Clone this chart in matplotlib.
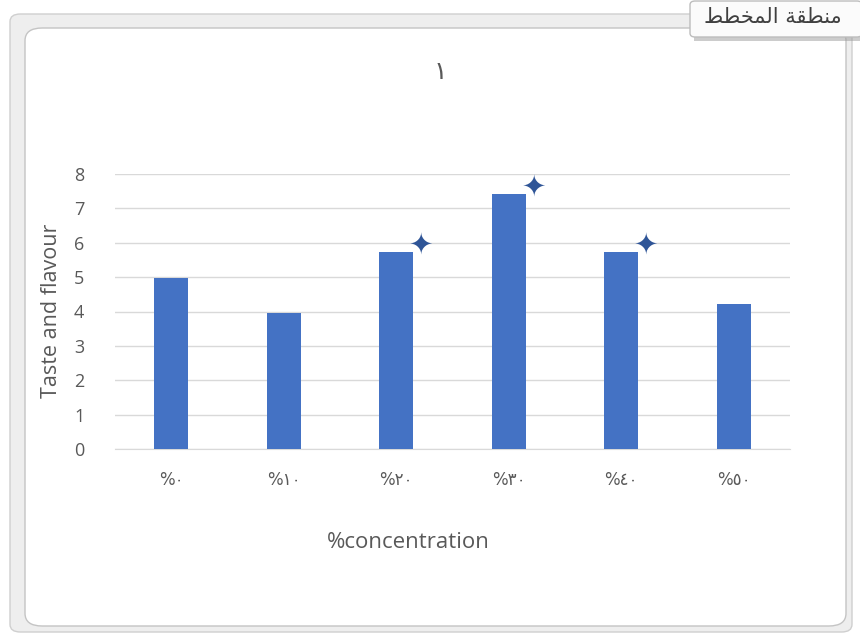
import matplotlib
matplotlib.use("Agg")
import matplotlib.pyplot as plt
from matplotlib.patches import FancyBboxPatch, Rectangle

# data
categories = ["%٠", "%١٠", "%٢٠", "%٣٠", "%٤٠", "%٥٠"]
values = [4.97, 3.97, 5.72, 7.42, 5.72, 4.22]
marked = [False, False, True, True, True, False]
title = "١"
ylabel = "Taste and flavour"
xlabel = "%concentration"
# "منطقة المخطط" in shaped presentation forms, visual order
tooltip = "\ufec2\ufec4\ufea8\ufee4\ufedf\ufe8d \ufe94\ufed8\ufec4\ufee8\ufee3"

BAR = "#4472C4"
STAR = "#2F5597"
TXT = "#595959"
GRID = "#D9D9D9"
FONT = ["Open Sans", "DejaVu Sans"]

plt.rcParams["font.family"] = FONT

W, H = 860, 633
fig = plt.figure(figsize=(W / 100, H / 100), dpi=100)


def px(x0, y0, x1, y1):
    # pixel box (top-left origin) -> figure fraction (x, y, w, h)
    return x0 / W, 1 - y1 / H, (x1 - x0) / W, (y1 - y0) / H


# window frame around the chart (behind the axes)
x, y, w, h = px(10, 14, 852, 632)
fig.patches.append(FancyBboxPatch((x, y), w, h, boxstyle="round,pad=0,rounding_size=0.012",
                                  transform=fig.transFigure, fc="#EEEEEE", ec="#CFCFCF",
                                  lw=1.0, zorder=-10))
x, y, w, h = px(25, 28, 846, 626)
fig.patches.append(FancyBboxPatch((x, y), w, h, boxstyle="round,pad=0,rounding_size=0.02",
                                  transform=fig.transFigure, fc="white", ec="#C4C4C4",
                                  lw=1.0, zorder=-9))

ax = fig.add_axes(px(115, 174, 790, 449))
pos = list(range(len(categories)))
ax.bar(pos, values, width=0.3, color=BAR, zorder=3)
for i, v in enumerate(values):
    if marked[i]:
        ax.annotate("✦", (i, v), xytext=(18, 4), textcoords="offset points",
                    ha="center", va="center", fontsize=21, color=STAR,
                    family="DejaVu Sans", zorder=4, annotation_clip=False)

ax.set_xlim(-0.5, len(categories) - 0.5)
ax.set_ylim(0, 8)
ax.set_yticks(range(0, 9))
ax.set_xticks(pos)
ax.set_xticklabels(categories, fontsize=12, color=TXT, family="DejaVu Sans")
ax.tick_params(axis="y", labelsize=13, colors=TXT, length=0, pad=22)
ax.tick_params(axis="x", length=0, pad=16)
ax.grid(axis="y", color=GRID, lw=1.0, zorder=0)
for s in ["top", "right", "left"]:
    ax.spines[s].set_visible(False)
ax.spines["bottom"].set_color(GRID)
ax.set_facecolor("none")
ax.set_ylabel(ylabel, fontsize=15.5, color=TXT)
ax.yaxis.set_label_coords(-(115 - 52) / 675, (449 - 311) / 275)
ax.yaxis.label.set_va("center")
ax.set_xlabel(xlabel, fontsize=16, color=TXT)
ax.xaxis.set_label_coords((408 - 115) / 675, -(543 - 449) / 275)
ax.xaxis.label.set_va("center")

fig.text(440 / W, 1 - 72 / H, title, ha="center", va="center", fontsize=18,
         color=TXT, family="DejaVu Sans")

# tooltip box at top right
x, y, w, h = px(694, 6, 866, 41)
fig.patches.append(Rectangle((x, y), w, h, transform=fig.transFigure, fc="#9A9A9A",
                             ec="none", alpha=0.5))
x, y, w, h = px(690, 1, 862, 37)
fig.patches.append(FancyBboxPatch((x, y), w, h, boxstyle="round,pad=0,rounding_size=0.006",
                                  transform=fig.transFigure, fc="#FBFBFB", ec="#BDBDBD", lw=1.0))
fig.text(773 / W, 1 - 17 / H, tooltip, ha="center", va="center", fontsize=15,
         color="#404040", family="DejaVu Sans")

fig.savefig("out.png", dpi=100)
